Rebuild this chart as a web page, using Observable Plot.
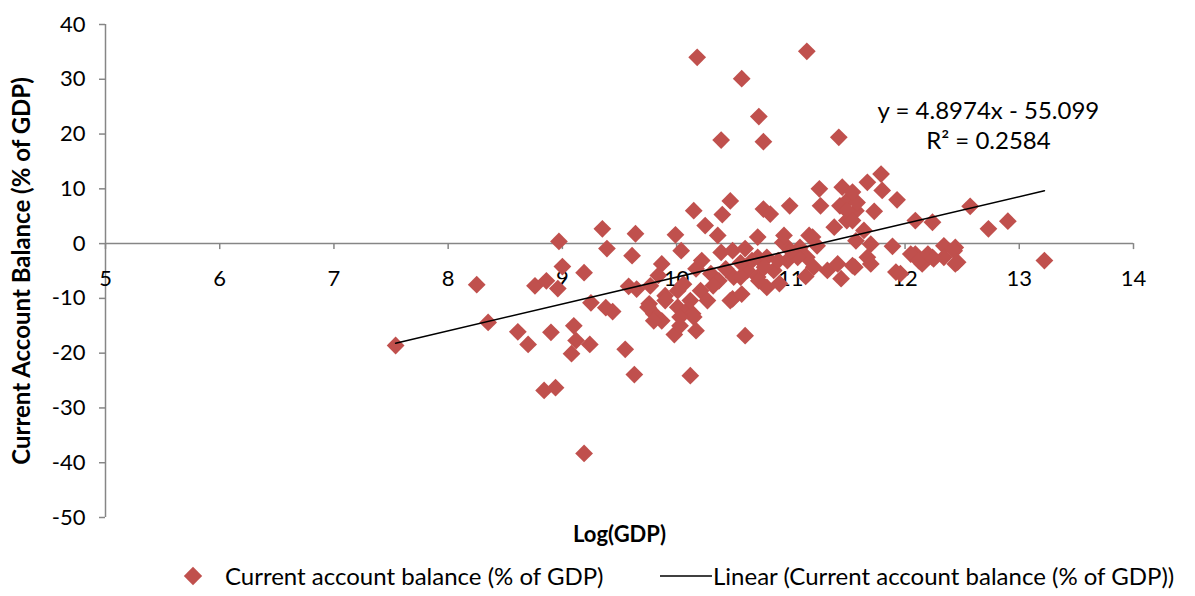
<!DOCTYPE html>
<html><head><meta charset="utf-8">
<script src="https://cdn.jsdelivr.net/npm/d3@7"></script>
<script src="https://cdn.jsdelivr.net/npm/@observablehq/plot@0.6"></script>
<style>
body{margin:0;background:#fff;font-family:Lato,"Open Sans",sans-serif;}
#legend{position:relative;width:1195px;height:41px;font-size:24px;color:#000;}
#legend .item{position:absolute;top:0;height:41px;display:flex;align-items:center;white-space:nowrap;}
</style></head><body>
<div id="chart"></div>
<div id="legend"></div>
<script>
const logGDP = [
 7.54,8.25,8.35,8.61,8.70,8.76,8.86,8.96,8.97,9.00,8.90,8.84,8.94,9.10,9.12,9.08,9.24,9.19,9.25,9.19,9.35,9.39,9.44,9.38,9.55,9.61,9.64,9.58,9.63,
 9.99,10.04,10.15,10.47,10.40,10.25,10.36,10.22,10.39,9.87,10.50,9.84,9.77,9.65,9.76,9.80,9.87,9.98,10.01,10.09,10.14,10.01,10.06,10.30,10.37,10.49,10.57,10.60,
 10.71,10.76,10.82,10.99,10.93,10.71,10.79,10.62,10.71,10.79,10.85,10.97,11.16,11.25,11.45,11.26,11.43,11.49,11.38,11.14,11.20,11.32,11.44,11.56,11.08,10.12,10.15,9.80,9.75,10.03,10.47,
 10.18,11.14,10.57,10.72,10.39,10.76,11.42,
 11.51,11.57,11.57,11.23,11.41,10.66,10.77,10.89,10.56,10.72,10.49,
 11.79,11.67,11.80,11.93,11.73,11.58,11.49,11.54,12.09,12.24,12.57,12.73,12.90,13.22,11.89,11.70,11.67,12.09,12.15,12.24,12.34,12.44,12.34,12.44,11.92,11.70,11.54,11.19,11.06,11.00,10.94,11.54,11.64,12.05,12.12,12.20,12.25,12.43,12.46,11.96,
 9.90,10.12,10.21,10.27,9.90,10.03,10.17,10.32,10.43,10.17,10.56,10.60,10.90,11.13
];
const currentAccount = [
 -18.6,-7.5,-14.4,-16.1,-18.4,-7.7,-6.8,-8.2,0.4,-4.2,-16.2,-26.8,-26.3,-15.0,-17.7,-20.1,-18.4,-5.3,-10.8,-38.3,2.7,-0.9,-12.4,-11.7,-19.3,-2.2,1.8,-7.8,-23.9,
 1.6,-1.3,6.0,7.8,5.3,3.3,1.5,-3.1,-1.6,-3.7,-6.1,-5.8,-7.7,-8.3,-11.0,-12.8,-14.1,-16.6,-11.6,-12.2,-12.8,-8.6,-7.4,-5.5,-6.8,-10.1,-9.2,-16.8,
 1.2,6.3,5.4,6.9,0.2,-2.5,-2.5,-4.9,-6.1,-8.0,-4.9,-3.1,1.5,10.0,10.3,6.9,6.9,4.2,3.0,-2.5,-4.3,-4.9,-6.4,-4.3,-0.7,-24.1,-13.4,-14.1,-11.6,-13.4,-10.4,
 34.0,35.1,30.1,23.2,18.9,18.6,19.4,
 8.2,6.0,0.5,-0.4,-3.7,-3.1,-4.3,-3.1,-6.1,-6.8,-1.3,
 12.7,11.2,9.7,8.0,5.9,7.5,6.0,4.2,4.2,3.9,6.8,2.7,4.1,-3.1,-0.5,-0.1,-2.5,-1.9,-3.7,-2.5,-0.4,-0.7,-2.5,-3.7,-5.2,-3.7,-4.0,1.2,-2.5,-1.3,1.5,9.4,2.4,-1.9,-3.1,-1.9,-2.8,-1.3,-3.4,-5.5,
 -9.5,-10.4,-8.6,-10.4,-10.4,-15.0,-15.9,-7.7,-4.6,-4.6,-3.5,-0.9,-7.3,-6.0
];
const xTicks = [5,6,7,8,9,10,11,12,13,14];
const yTicks = [-50,-40,-30,-20,-10,0,10,20,30,40];
const trendSlope = 4.8974;
const trendIntercept = -55.099;
const equationLines = ["y = 4.8974x - 55.099", "R² = 0.2584"];
const equationX = [12.73, 12.73];
const equationY = [24.1, 18.6];
const seriesName = "Current account balance (% of GDP)";
const trendName = "Linear (Current account balance (% of GDP))";
const xTitle = "Log(GDP)";
const yTitle = "Current Account Balance (% of GDP)";

const points = logGDP.map((x, i) => ({x, y: currentAccount[i]}));
const trend = d3.extent(logGDP).map(x => ({x, y: trendSlope * x + trendIntercept}));
const eq = equationLines.map((t, i) => ({t, x: equationX[i], y: equationY[i]}));
const red = "#C0504D", gray = "#868686";
const font = "Lato, 'Open Sans', sans-serif";

const chart = Plot.plot({
  width: 1195, height: 555,
  marginLeft: 105, marginRight: 62, marginTop: 24, marginBottom: 38,
  style: {fontFamily: font, background: "#fff", overflow: "visible"},
  x: {domain: [5, 14], axis: null},
  y: {domain: [-50, 40], axis: null},
  marks: [
    Plot.ruleY([0], {stroke: gray, strokeWidth: 1.5}),
    Plot.ruleX([5], {stroke: gray, strokeWidth: 1.5}),
    Plot.ruleX(xTicks, {x: d => d, y1: 0, y2: 0, insetBottom: -6, stroke: gray, strokeWidth: 1.5}),
    Plot.ruleY(yTicks, {y: d => d, x1: 5, x2: 5, insetLeft: -6, stroke: gray, strokeWidth: 1.5}),
    Plot.text(xTicks, {x: d => d, y: 0, dy: 35, text: d => String(d), fontSize: 22, fill: "#000"}),
    Plot.text(yTicks, {x: 5, y: d => d, dx: -20, text: d => String(d), textAnchor: "end", fontSize: 22, fill: "#000"}),
    Plot.dot(points, {x: "x", y: "y", symbol: "diamond2", r: 8, fill: red, stroke: "none"}),
    Plot.line(trend, {x: "x", y: "y", stroke: "#000", strokeWidth: 1.6}),
    Plot.text(eq, {x: "x", y: "y", text: "t", fontSize: 24, fill: "#000"}),
    Plot.text([xTitle], {frameAnchor: "bottom", dy: 24, fontSize: 22, fontWeight: "bold", fill: "#000"}),
    Plot.text([yTitle], {frameAnchor: "left", textAnchor: "middle", dx: -83, rotate: -90, fontSize: 24, fontWeight: "bold", fill: "#000"})
  ]
});
document.getElementById("chart").appendChild(chart);

const legend = document.getElementById("legend");
legend.innerHTML =
  `<div class="item" style="left:182px"><svg width="22" height="22"><rect x="4.5" y="4.5" width="13" height="13" fill="${red}" transform="rotate(45 11 11)"/></svg><span style="margin-left:21px">${seriesName}</span></div>` +
  `<div class="item" style="left:660px"><svg width="52" height="4"><line x1="0" y1="2" x2="52" y2="2" stroke="#000" stroke-width="1.6"/></svg><span style="margin-left:1px">${trendName}</span></div>`;
</script>
</body></html>
